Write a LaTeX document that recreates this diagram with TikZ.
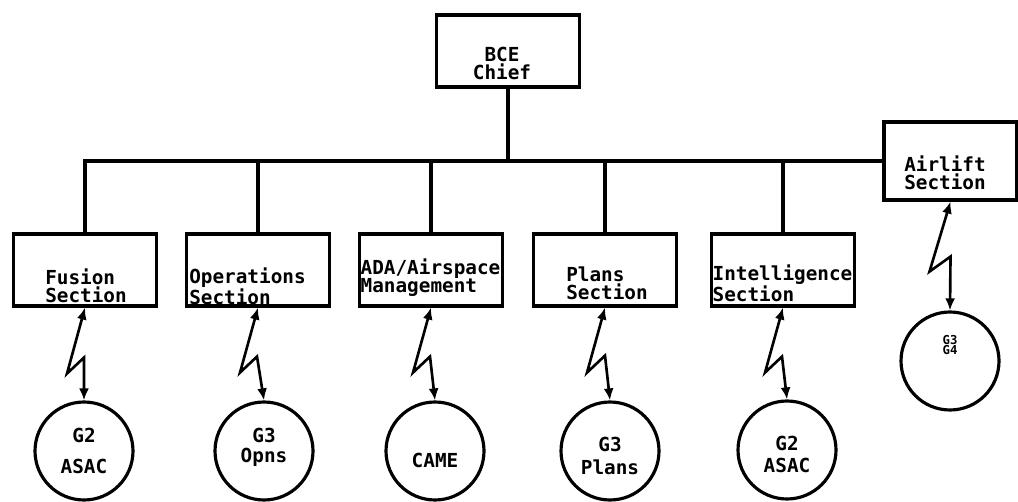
\documentclass[tikz,border=0pt]{standalone}
\usepackage{fontspec}
\setmonofont{DejaVu Sans Mono}
\usetikzlibrary{arrows.meta}

\begin{document}
\begin{tikzpicture}[
    caja/.style={draw, line width=1.8pt, minimum width=2.86cm, minimum height=1.44cm, inner sep=0pt},
    circulo/.style={draw, circle, line width=1.8pt, minimum size=1.96cm, inner sep=0pt},
    texto/.style={font=\ttfamily\bfseries\fontsize{11}{10.5}\selectfont, align=left, inner sep=0pt},
    enlace/.style={line width=1.5pt, {Latex[length=2.4mm,width=2mm]}-{Latex[length=2.4mm,width=2mm]}},
    linea/.style={line width=1.8pt}]

    \useasboundingbox (0,0) rectangle (20.36,10.02);

    % jefe
    \node[caja] (bce) at (10.16,9.0) {};
    \node[texto, align=center] (bce-t) at ([shift={(-0.12,-0.25)}]bce.center) {BCE\\Chief};

    % secciones
    \node[caja] (fusion) at (1.70,4.62) {};
    \node[caja] (ops) at (5.16,4.62) {};
    \node[caja] (ada) at (8.62,4.62) {};
    \node[caja] (plans) at (12.10,4.62) {};
    \node[caja] (intel) at (15.66,4.62) {};
    \node[caja, minimum width=2.66cm, minimum height=1.56cm] (airlift) at (19.01,6.8) {};

    \node[texto] (fusion-t) at ([shift={(0.02,-0.32)}]fusion.center) {Fusion\\Section};
    \node[texto] (ops-t) at ([shift={(-0.21,-0.33)}]ops.center) {Operations\\Section};
    \node[texto] (ada-t) at ([shift={(-0.01,-0.15)}]ada.center) {ADA/Airspace\\ Management};
    \node[texto] (plans-t) at ([shift={(0.04,-0.27)}]plans.center) {Plans\\Section};
    \node[texto] (intel-t) at ([shift={(-0.01,-0.27)}]intel.center) {Intelligence\\Section};
    \node[texto] (airlift-t) at ([shift={(-0.11,-0.24)}]airlift.center) {Airlift\\Section};

    % barra
    \draw[linea] (fusion.north) |- (airlift.west);
    \draw[linea] (bce.south) -- (bce.south |- airlift.west);
    \draw[linea] (ops.north) -- (ops.north |- airlift.west);
    \draw[linea] (ada.north) -- (ada.north |- airlift.west);
    \draw[linea] (plans.north) -- (plans.north |- airlift.west);
    \draw[linea] (intel.north) -- (intel.north |- airlift.west);

    % usuarios
    \node[circulo] (g2a) at (1.68,1.0) {};
    \node[circulo] (g3o) at (5.28,1.0) {};
    \node[circulo] (came) at (8.70,1.0) {};
    \node[circulo] (g3p) at (12.20,1.0) {};
    \node[circulo] (g2b) at (15.74,1.02) {};
    \node[circulo] (g34) at (19.00,2.8) {};

    \node[texto, align=center] (g2a-t) at (g2a.center) {G2\\[7pt]ASAC};
    \node[texto, align=center] (g3o-t) at ([yshift=0.07cm]g3o.center) {G3\\[1pt]Opns};
    \node[texto] (came-t) at ([yshift=-0.18cm]came.center) {CAME};
    \node[texto, align=center] (g3p-t) at ([yshift=-0.1cm]g3p.center) {G3\\[2.5pt]Plans};
    \node[texto, align=center] (g2b-t) at ([yshift=-0.09cm]g2b.center) {G2\\[2.5pt]ASAC};
    \node[texto, font=\ttfamily\bfseries\fontsize{7}{6}\selectfont, align=center] (g34-t) at ([yshift=0.32cm]g34.center) {G3\\G4};

    % enlaces de radio
    \draw[enlace] (fusion.south) -- ++(-0.36,-1.32) -- ++(0.34,0.32) -- (g2a.north);
    \draw[enlace] (ops.south) -- ++(-0.36,-1.3) -- ++(0.34,0.32) -- (g3o.north);
    \draw[enlace] (ada.south) -- ++(-0.36,-1.3) -- ++(0.34,0.32) -- (came.north);
    \draw[enlace] (plans.south) -- ++(-0.36,-1.3) -- ++(0.36,0.34) -- (g3p.north);
    \draw[enlace] (intel.south) -- ++(-0.36,-1.3) -- ++(0.34,0.32) -- (g2b.north);
    \draw[enlace] (airlift.south) -- ++(-0.42,-1.4) -- ++(0.42,0.3) -- (g34.north);

\end{tikzpicture}
\end{document}
